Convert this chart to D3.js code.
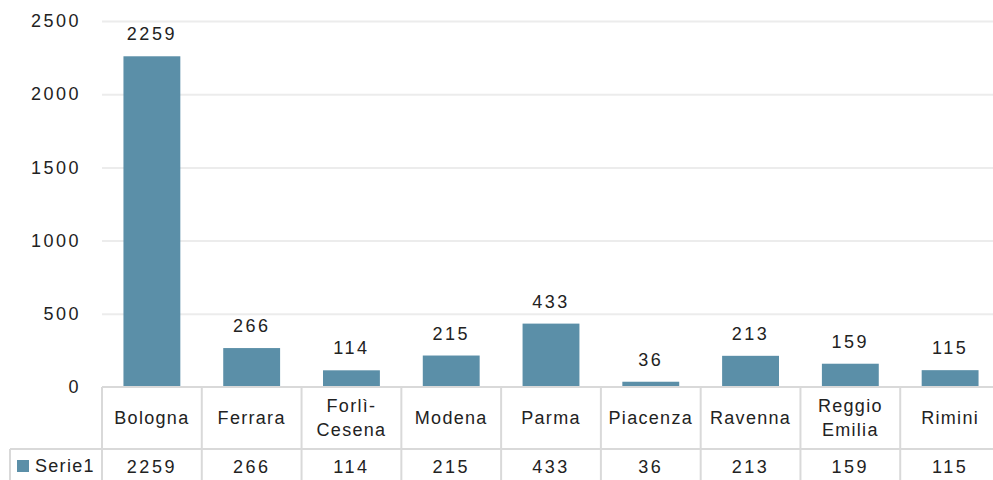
<!DOCTYPE html>
<html>
<head>
<meta charset="utf-8">
<script src="https://cdn.jsdelivr.net/npm/d3@7"></script>
<style>
  body { margin: 0; background: #fff; }
  svg { display: block; font-family: "Liberation Sans", Arial, sans-serif; }
</style>
</head>
<body>
<div id="chart"></div>
<script>
// ---------------- DATA ----------------
const categories = ["Bologna", "Ferrara", "Forlì-Cesena", "Modena", "Parma", "Piacenza", "Ravenna", "Reggio Emilia", "Rimini"];
const labelLines = [["Bologna"], ["Ferrara"], ["Forlì-", "Cesena"], ["Modena"], ["Parma"], ["Piacenza"], ["Ravenna"], ["Reggio", "Emilia"], ["Rimini"]];
const values = [2259, 266, 114, 215, 433, 36, 213, 159, 115];
const seriesName = "Serie1";
const yTicks = [0, 500, 1000, 1500, 2000, 2500];

const width = 993, height = 480;
const margin = {top: 21, left: 102, right: -7, zeroY: 387};
const barColor = "#5b8fa8";
const gridColor = "#ececec";
const borderColor = "#d9d9d9";
const textColor = "#222";
const numSpacing = "2.5px";

const svg = d3.select("#chart").append("svg")
  .attr("width", width)
  .attr("height", height);

const x = d3.scaleBand()
  .domain(categories)
  .range([margin.left, width - margin.right])
  .paddingInner(0.43)
  .paddingOuter(0.215);

const cell = d3.scaleBand()
  .domain(categories)
  .range([margin.left, width - margin.right]);

const y = d3.scaleLinear()
  .domain([0, 2500])
  .range([margin.zeroY, margin.top]);

// ---------------- GRID + Y AXIS ----------------
const yAxis = svg.append("g")
  .attr("transform", `translate(${margin.left},0)`)
  .call(d3.axisLeft(y).tickValues(yTicks).tickFormat(d3.format("d"))
    .tickSize(-(width - margin.left)).tickPadding(21));
yAxis.select(".domain").remove();
yAxis.selectAll(".tick line")
  .attr("stroke", gridColor)
  .attr("stroke-width", 2)
  .attr("display", d => d === 0 ? "none" : null);
yAxis.selectAll(".tick text")
  .attr("fill", textColor)
  .style("font-size", "18px")
  .style("letter-spacing", numSpacing);

// ---------------- BARS ----------------
svg.selectAll("rect.bar")
  .data(values)
  .enter().append("rect")
  .attr("class", "bar")
  .attr("x", (d, i) => x(categories[i]))
  .attr("width", x.bandwidth())
  .attr("y", d => y(d))
  .attr("height", d => y(0) - y(d))
  .attr("fill", barColor);

svg.selectAll("text.val")
  .data(values)
  .enter().append("text")
  .attr("class", "val")
  .attr("x", (d, i) => x(categories[i]) + x.bandwidth() / 2)
  .attr("y", d => y(d) - 16)
  .attr("text-anchor", "middle")
  .attr("fill", textColor)
  .style("font-size", "18px")
  .style("letter-spacing", numSpacing)
  .text(d => d);

// ---------------- DATA TABLE ----------------
const rowTop = margin.zeroY, rowMid = 449, rowBot = 486;
const tbl = svg.append("g")
  .attr("stroke", borderColor)
  .attr("stroke-width", 2)
  .attr("fill", "none");

tbl.append("line").attr("x1", margin.left).attr("x2", width).attr("y1", rowTop).attr("y2", rowTop);
tbl.append("line").attr("x1", 10).attr("x2", width).attr("y1", rowMid).attr("y2", rowMid);
tbl.append("line").attr("x1", 10).attr("x2", 10).attr("y1", rowMid).attr("y2", rowBot);
categories.forEach(c => {
  tbl.append("line")
    .attr("x1", cell(c)).attr("x2", cell(c))
    .attr("y1", rowTop).attr("y2", rowBot);
});

const header = svg.append("g");
labelLines.forEach((lines, i) => {
  const cx = cell(categories[i]) + cell.bandwidth() / 2;
  const cy = (rowTop + rowMid) / 2;
  const lh = 24;
  lines.forEach((t, j) => {
    header.append("text")
      .attr("x", cx)
      .attr("y", cy + (j - (lines.length - 1) / 2) * lh)
      .attr("dy", "0.35em")
      .attr("text-anchor", "middle")
      .attr("fill", textColor)
      .style("font-size", "18px")
      .style("letter-spacing", "1.3px")
      .text(t);
  });
});

svg.selectAll("text.cellval")
  .data(values)
  .enter().append("text")
  .attr("class", "cellval")
  .attr("x", (d, i) => cell(categories[i]) + cell.bandwidth() / 2)
  .attr("y", 467)
  .attr("dy", "0.35em")
  .attr("text-anchor", "middle")
  .attr("fill", textColor)
  .style("font-size", "18px")
  .style("letter-spacing", numSpacing)
  .text(d => d);

// legend key in the table
svg.append("rect")
  .attr("x", 17).attr("y", 460)
  .attr("width", 12).attr("height", 12)
  .attr("fill", barColor);
svg.append("text")
  .attr("x", 35).attr("y", 466)
  .attr("dy", "0.35em")
  .attr("fill", textColor)
  .style("font-size", "18px")
  .style("letter-spacing", "1.3px")
  .text(seriesName);
</script>
</body>
</html>
